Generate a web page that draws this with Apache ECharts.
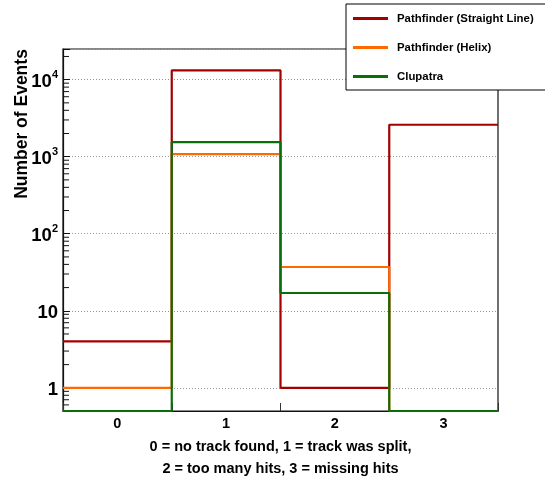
<!DOCTYPE html>
<html>
<head>
<meta charset="utf-8">
<script src="https://cdn.jsdelivr.net/npm/echarts@6/dist/echarts.min.js"></script>
<style>
  html, body { margin: 0; padding: 0; background: #fff; }
  #chart { width: 545px; height: 477px; }
</style>
</head>
<body>
<div id="chart"></div>
<script>
// Event classification bins (x axis) and per-algorithm counts
const bins = ['0', '1', '2', '3'];
const straightLine = [4, 13200, 1, 2600];
const helix = [1, 1080, 37, 0];
const clupatra = [0, 1550, 17, 0];

const seriesNames = ['Pathfinder (Straight Line)', 'Pathfinder (Helix)', 'Clupatra'];
const seriesColors = ['#a30000', '#ff6a00', '#0a6e0a'];

// Log y-axis range and the minor tick values between decades
const yMin = 0.5;
const yMax = 25000;
const minorTickValues = [
  0.6, 0.7, 0.8, 0.9,
  2, 3, 4, 5, 6, 7, 8, 9,
  20, 30, 40, 50, 60, 70, 80, 90,
  200, 300, 400, 500, 600, 700, 800, 900,
  2000, 3000, 4000, 5000, 6000, 7000, 8000, 9000,
  20000
];

const FONT = '"Liberation Sans", Arial, Helvetica, sans-serif';

// Histogram outline: one horizontal segment per bin, empty bins sit on the axis floor
function stepPoints(values) {
  const pts = [];
  values.forEach((v, i) => {
    const y = v > 0 ? v : yMin;
    pts.push([i, y], [i + 1, y]);
  });
  return pts;
}

function histSeries(name, values, color) {
  return {
    name: name,
    type: 'line',
    xAxisIndex: 0,
    data: stepPoints(values),
    showSymbol: false,
    symbol: 'none',
    clip: false,
    lineStyle: { color: color, width: 2.2 },
    itemStyle: { color: color },
    z: 3
  };
}

const chart = echarts.init(document.getElementById('chart'), null, { renderer: 'canvas' });

chart.setOption({
  animation: false,
  backgroundColor: '#fff',
  grid: {
    left: 63, right: 47, top: 49, bottom: 66,
    outerBoundsMode: 'none',
    containLabel: false,
    show: true, borderColor: '#111', borderWidth: 1.2, backgroundColor: 'transparent'
  },
  legend: {
    orient: 'vertical',
    left: 346, top: 4,
    padding: [8, 30, 7, 7],
    itemGap: 16,
    itemWidth: 35, itemHeight: 3,
    icon: 'rect',
    backgroundColor: '#fff',
    borderColor: '#000', borderWidth: 1,
    textStyle: {
      fontFamily: FONT, fontWeight: 'bold', fontSize: 11.4, color: '#000',
      lineHeight: 13, padding: [0, 0, 0, 4]
    },
    data: seriesNames
  },
  xAxis: [
    {
      type: 'value', min: 0, max: 4, interval: 1,
      axisLine: { show: true, lineStyle: { color: '#111', width: 1.2 } },
      axisTick: { show: true, inside: true, length: 8, lineStyle: { color: '#333' } },
      axisLabel: { show: false },
      splitLine: { show: false }
    },
    {
      type: 'category', position: 'bottom', data: bins, boundaryGap: true,
      axisLine: { show: false }, axisTick: { show: false },
      axisLabel: { fontFamily: FONT, fontWeight: 'bold', fontSize: 14.5, color: '#000', margin: 5 },
      name: '0 = no track found, 1 = track was split,\n2 = too many hits, 3 = missing hits',
      nameLocation: 'middle', nameGap: 21,
      nameTextStyle: { fontFamily: FONT, fontWeight: 'bold', fontSize: 14.5, color: '#000', lineHeight: 22 }
    }
  ],
  yAxis: {
    type: 'log', logBase: 10, min: yMin, max: yMax,
    axisLine: { show: true, lineStyle: { color: '#111', width: 1.2 } },
    axisTick: { show: true, inside: true, length: 7, lineStyle: { color: '#111' } },
    axisLabel: {
      margin: 5,
      color: '#000',
      fontFamily: FONT,
      formatter: function (v) {
        const lg = Math.log10(v);
        const e = Math.round(lg);
        if (Math.abs(lg - e) > 1e-6) return '';
        if (e === 0) return '{a|1}';
        if (e === 1) return '{a|10}';
        return '{a|10}{s|' + e + '}';
      },
      rich: {
        a: { fontFamily: FONT, fontWeight: 'bold', fontSize: 18.5, color: '#000', lineHeight: 24, verticalAlign: 'bottom', padding: [4, 0, 0, 0] },
        s: { fontFamily: FONT, fontWeight: 'bold', fontSize: 11, color: '#000', lineHeight: 24, verticalAlign: 'top', padding: [2, 0, 0, 0] }
      }
    },
    splitLine: { show: true, lineStyle: { color: '#999', type: [1, 2], width: 1 } }
  },
  graphic: [
    {
      type: 'text',
      x: 22, y: 124,
      rotation: Math.PI / 2,
      style: {
        text: 'Number of Events',
        fontFamily: FONT, fontWeight: 'bold', fontSize: 17.5,
        fill: '#000', align: 'center', verticalAlign: 'middle'
      }
    }
  ],
  series: [
    histSeries(seriesNames[0], straightLine, seriesColors[0]),
    histSeries(seriesNames[1], helix, seriesColors[1]),
    histSeries(seriesNames[2], clupatra, seriesColors[2]),
    {
      // short inside ticks at 2..9 of every decade
      type: 'custom',
      xAxisIndex: 0,
      silent: true,
      clip: false,
      z: 1,
      data: minorTickValues.map(v => [0, v]),
      renderItem: function (params, api) {
        const p = api.coord([0, api.value(1)]);
        return {
          type: 'line',
          shape: { x1: p[0], y1: p[1], x2: p[0] + 6, y2: p[1] },
          style: { stroke: '#111', lineWidth: 1 }
        };
      }
    }
  ]
});
</script>
</body>
</html>
